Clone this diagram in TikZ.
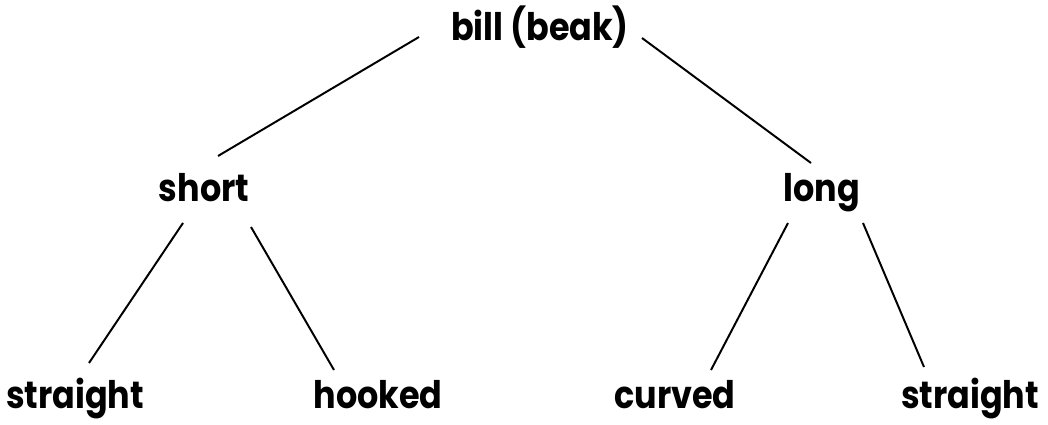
\documentclass[tikz,border=0pt]{standalone}
\usepackage{fontspec}
\usepackage{tikz}
\newfontfamily\birdfont{Poppins}[FakeStretch=0.88]

\begin{document}
\begin{tikzpicture}[x=0.025cm, y=-0.025cm,
  lbl/.style={anchor=base, inner sep=0pt, font={\birdfont\bfseries\fontsize{27}{30}\selectfont}},
  edge/.style={line width=1.4pt}]

\useasboundingbox (0,0) rectangle (1048,425);

% the words
\node[lbl] (bill)   at (540,41)  {bill (beak)};
\node[lbl] (short)  at (204,202) {short};
\node[lbl] (long)   at (822,202) {long};
\node[lbl] (strL)   at (75,409)  {straight};
\node[lbl] (hooked) at (378,409) {hooked};
\node[lbl] (curved) at (675,409) {curved};
\node[lbl] (strR)   at (970,409) {straight};

% the branches
\draw[edge] ([shift={(-121,-4)}]bill.base) -- ([shift={(14,-46)}]short.base);
\draw[edge] ([shift={(102,-3)}]bill.base)  -- ([shift={(-11,-39)}]long.base);
\draw[edge] ([shift={(-21,21)}]short.base) -- ([shift={(14,-46)}]strL.base);
\draw[edge] ([shift={(47,25)}]short.base)  -- ([shift={(-44,-39)}]hooked.base);
\draw[edge] ([shift={(-34,21)}]long.base)  -- ([shift={(36,-39)}]curved.base);
\draw[edge] ([shift={(41,21)}]long.base)   -- ([shift={(-46,-42)}]strR.base);

\end{tikzpicture}
\end{document}
